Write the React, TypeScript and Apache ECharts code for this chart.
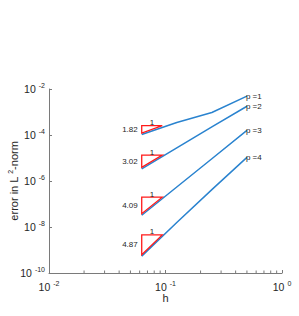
import React, { useEffect, useRef } from "react";
import * as echarts from "echarts";

const hValues = [0.0625, 0.125, 0.25, 0.5];
const errP1 = [1.05e-4, 3.5e-4, 9.5e-4, 4.9e-3];
const errP2 = [3.39e-6, 2.75e-5, 2.24e-4, 1.78e-3];
const errP3 = [3.24e-8, 5.5e-7, 9.3e-6, 1.58e-4];
const errP4 = [5.4e-10, 1.58e-8, 4.2e-7, 1.07e-5];
const seriesNames = ["p =1", "p =2", "p =3", "p =4"];
const slopeLabels = ["1.82", "3.02", "4.09", "4.87"];
const triangleRatio = 1.5;

const FONT = "'Liberation Sans', Arial, Helvetica, sans-serif";
const TEXT = "#262626";
const AXIS = "#7a7a7a";
const BLUE = "#2a83cf";

export default function App() {
  const ref = useRef<HTMLDivElement>(null);
  useEffect(() => {
    if (!ref.current) return;
    const chart = echarts.init(ref.current, undefined, { renderer: "svg" });
    const errs = [errP1, errP2, errP3, errP4];

    const minorTicks: number[][] = [];
    for (let d = -2; d < 0; d++) {
      for (let k = 2; k <= 9; k++) minorTicks.push([k * Math.pow(10, d), 1e-10]);
    }

    const triData = errs.map((e, i) => [hValues[0], e[0], parseFloat(slopeLabels[i]), i]);

    const expLabel = (v: number) => {
      const e = Math.round(Math.log10(v));
      return `{b|10}{s|${e}}`;
    };
    const rich = {
      b: { fontSize: 10.5, fontFamily: FONT, color: TEXT },
      s: { fontSize: 7, fontFamily: FONT, color: TEXT, padding: [0, 0, 7, 3] },
    };

    const lineSeries = errs.map((e, i) => ({
      type: "line",
      name: seriesNames[i],
      data: hValues.map((h, j) => [h, e[j]]),
      showSymbol: false,
      symbol: "none",
      lineStyle: { color: BLUE, width: 1.5 },
      z: 2,
      endLabel: {
        show: true,
        formatter: seriesNames[i],
        distance: -1,
        fontSize: 8,
        fontFamily: FONT,
        color: TEXT,
      },
    }));

    chart.setOption({
      animation: false,
      grid: {
        left: 49,
        right: 17,
        top: 89,
        bottom: 43,
        containLabel: false,
        outerBoundsMode: "none",
      },
      xAxis: {
        type: "log",
        logBase: 10,
        min: 0.01,
        max: 1,
        name: "h",
        nameLocation: "middle",
        nameGap: 19,
        nameMoveOverlap: false,
        nameTextStyle: { fontSize: 11, fontFamily: FONT, color: TEXT },
        axisLine: { lineStyle: { color: AXIS, width: 1 } },
        axisTick: { inside: true, length: 3, lineStyle: { color: AXIS } },
        axisLabel: { formatter: expLabel, rich, margin: 7 },
        splitLine: { show: false },
      },
      yAxis: {
        type: "log",
        logBase: 10,
        min: 1e-10,
        max: 1e-2,
        interval: 2,
        name: "error in L {s|2}-norm",
        nameLocation: "middle",
        nameGap: 28,
        nameRotate: 90,
        nameMoveOverlap: false,
        nameTextStyle: {
          fontSize: 11,
          fontFamily: FONT,
          color: TEXT,
          rich: {
            s: { fontSize: 7, fontFamily: FONT, color: TEXT, padding: [0, 0, 7, 0] },
          },
        },
        axisLine: { lineStyle: { color: AXIS, width: 1 } },
        axisTick: { inside: true, length: 3, lineStyle: { color: AXIS } },
        axisLabel: { formatter: expLabel, rich, margin: 4 },
        splitLine: { show: false },
      },
      series: [
        ...lineSeries,
        {
          type: "custom",
          name: "minor",
          data: minorTicks,
          silent: true,
          clip: false,
          z: 1,
          renderItem: (params: any, api: any) => {
            const p = api.coord([api.value(0), api.value(1)]);
            return {
              type: "line",
              shape: { x1: p[0], y1: p[1], x2: p[0], y2: p[1] - 2.5 },
              style: { stroke: AXIS, lineWidth: 1 },
            };
          },
        },
        {
          type: "custom",
          name: "slopes",
          data: triData,
          silent: true,
          clip: false,
          z: 3,
          renderItem: (params: any, api: any) => {
            const h0 = api.value(0);
            const y0 = api.value(1);
            const s = api.value(2);
            const idx = api.value(3);
            const y1 = y0 * Math.pow(triangleRatio, s);
            const a = api.coord([h0, y0]);
            const b = api.coord([h0, y1]);
            const c = api.coord([h0 * triangleRatio, y1]);
            const off = -1.5;
            return {
              type: "group",
              children: [
                {
                  type: "polygon",
                  shape: {
                    points: [
                      [a[0], a[1] + off],
                      [b[0], b[1] + off],
                      [c[0], c[1] + off],
                    ],
                  },
                  style: { fill: "#ffffff", stroke: "#ff1a1a", lineWidth: 1.3 },
                },
                {
                  type: "text",
                  x: a[0] - 4,
                  y: (a[1] + b[1]) / 2 + off,
                  style: {
                    text: slopeLabels[idx],
                    fontSize: 8,
                    fontFamily: FONT,
                    fill: TEXT,
                    align: "right",
                    verticalAlign: "middle",
                  },
                },
                {
                  type: "text",
                  x: (b[0] + c[0]) / 2,
                  y: b[1] + off + 1,
                  style: {
                    text: "1",
                    fontSize: 8,
                    fontFamily: FONT,
                    fill: TEXT,
                    align: "center",
                    verticalAlign: "bottom",
                  },
                },
              ],
            };
          },
        },
      ],
    });
    return () => chart.dispose();
  }, []);
  return (
    <div
      ref={ref}
      style={{ position: "absolute", left: 0, top: 0, width: 299, height: 316, background: "#fff" }}
    />
  );
}
